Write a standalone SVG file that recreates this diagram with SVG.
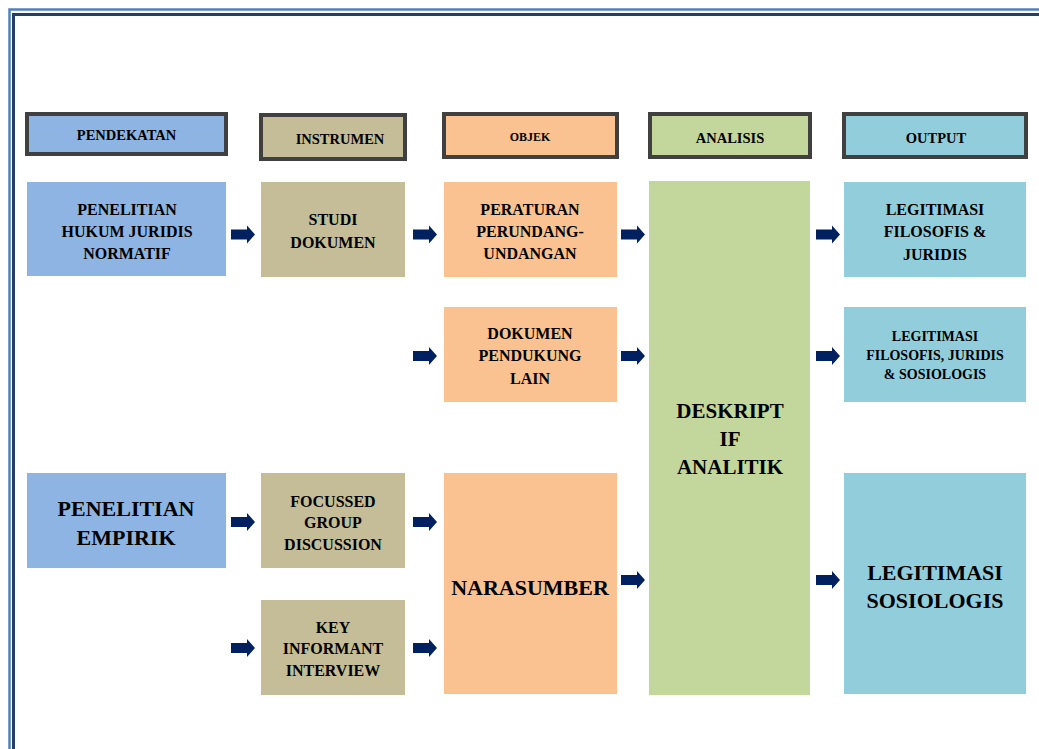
<svg xmlns="http://www.w3.org/2000/svg" width="1039" height="749" viewBox="0 0 1039 749">
<defs>
<style>
.hdr{stroke:#404040;stroke-width:4}
.blue{fill:#8EB4E3}.tan{fill:#C4BD97}.org{fill:#F9C290}.grn{fill:#C3D69B}.lb{fill:#92CDDC}
text{font-family:"Liberation Serif","Times New Roman",serif;font-weight:bold;fill:#000;text-anchor:middle;dominant-baseline:central}
.h{font-size:14.5px}.m{font-size:16px}.s{font-size:14px}.l{font-size:22px}
.arr{fill:#002060}
</style>
<path id="ar" d="M0,-5 H16 V-9 L24,0 L16,9 V5 H0 Z"/>
</defs>
<rect width="1039" height="749" fill="#fff"/>
<g id="frame" fill="none">
<path d="M9.5,749 V9.5 H1039" stroke="#4F81BD" stroke-width="2.5"/>
<path d="M13.5,749 V14.5 H1039" stroke="#243F60" stroke-width="3"/>
</g>
<g id="h-pendekatan"><rect class="hdr blue" x="27" y="114" width="199" height="40"/><text class="h" x="126.5" y="135">PENDEKATAN</text></g>
<g id="h-instrumen"><rect class="hdr tan" x="261" y="115" width="144" height="44"/><text class="h" x="340" y="139">INSTRUMEN</text></g>
<g id="h-objek"><rect class="hdr org" x="444" y="114" width="173" height="43"/><text x="530" y="137" style="font-size:12px">OBJEK</text></g>
<g id="h-analisis"><rect class="hdr grn" x="650" y="114" width="160" height="43"/><text class="h" x="730" y="138">ANALISIS</text></g>
<g id="h-output"><rect class="hdr lb" x="844" y="114" width="182" height="43"/><text class="h" x="936" y="138">OUTPUT</text></g>

<g id="n-normatif"><rect class="blue" x="27" y="182" width="199" height="94"/><text class="m" x="127" y="209">PENELITIAN</text><text class="m" x="127" y="231">HUKUM JURIDIS</text><text class="m" x="127" y="253">NORMATIF</text></g>
<g id="n-studi"><rect class="tan" x="261" y="182" width="144" height="95"/><text class="m" x="333" y="219">STUDI</text><text class="m" x="333" y="242">DOKUMEN</text></g>
<g id="n-peraturan"><rect class="org" x="444" y="182" width="173" height="95"/><text class="m" x="530" y="209">PERATURAN</text><text class="m" x="530" y="231">PERUNDANG-</text><text class="m" x="530" y="253">UNDANGAN</text></g>
<g id="n-deskriptif"><rect class="grn" x="649" y="181" width="161" height="514"/><text class="l" x="730" y="411" style="font-size:21px">DESKRIPT</text><text class="l" x="730" y="439" style="font-size:21px">IF</text><text class="l" x="730" y="467" style="font-size:21px">ANALITIK</text></g>
<g id="n-leg1"><rect class="lb" x="844" y="182" width="182" height="95"/><text class="m" x="935" y="209">LEGITIMASI</text><text class="m" x="935" y="231">FILOSOFIS &amp;</text><text class="m" x="935" y="254">JURIDIS</text></g>

<g id="n-pendukung"><rect class="org" x="444" y="307" width="173" height="95"/><text class="m" x="530" y="333">DOKUMEN</text><text class="m" x="530" y="355">PENDUKUNG</text><text class="m" x="530" y="378">LAIN</text></g>
<g id="n-leg2"><rect class="lb" x="844" y="307" width="182" height="95"/><text class="s" x="935" y="336">LEGITIMASI</text><text class="s" x="935" y="355">FILOSOFIS, JURIDIS</text><text class="s" x="935" y="374">&amp; SOSIOLOGIS</text></g>

<g id="n-empirik"><rect class="blue" x="27" y="473" width="199" height="95"/><text class="l" x="126" y="508">PENELITIAN</text><text class="l" x="126" y="537">EMPIRIK</text></g>
<g id="n-fgd"><rect class="tan" x="261" y="473" width="144" height="95"/><text class="m" x="333" y="501">FOCUSSED</text><text class="m" x="333" y="522">GROUP</text><text class="m" x="333" y="544">DISCUSSION</text></g>
<g id="n-kii"><rect class="tan" x="261" y="600" width="144" height="95"/><text class="m" x="333" y="627">KEY</text><text class="m" x="333" y="648">INFORMANT</text><text class="m" x="333" y="670">INTERVIEW</text></g>
<g id="n-narasumber"><rect class="org" x="444" y="473" width="173" height="221"/><text class="l" x="530" y="587">NARASUMBER</text></g>
<g id="n-leg3"><rect class="lb" x="844" y="473" width="182" height="221"/><text class="l" x="935" y="572">LEGITIMASI</text><text class="l" x="935" y="600">SOSIOLOGIS</text></g>

<g id="connectors" class="arr">
<use href="#ar" x="231" y="234.5"/>
<use href="#ar" x="413" y="234.5"/>
<use href="#ar" x="621" y="234.5"/>
<use href="#ar" x="816" y="234.5"/>
<use href="#ar" x="413" y="356"/>
<use href="#ar" x="621" y="356"/>
<use href="#ar" x="816" y="356"/>
<use href="#ar" x="231" y="522"/>
<use href="#ar" x="413" y="522"/>
<use href="#ar" x="231" y="648"/>
<use href="#ar" x="413" y="648"/>
<use href="#ar" x="621" y="580"/>
<use href="#ar" x="816" y="580"/>
</g>
</svg>
